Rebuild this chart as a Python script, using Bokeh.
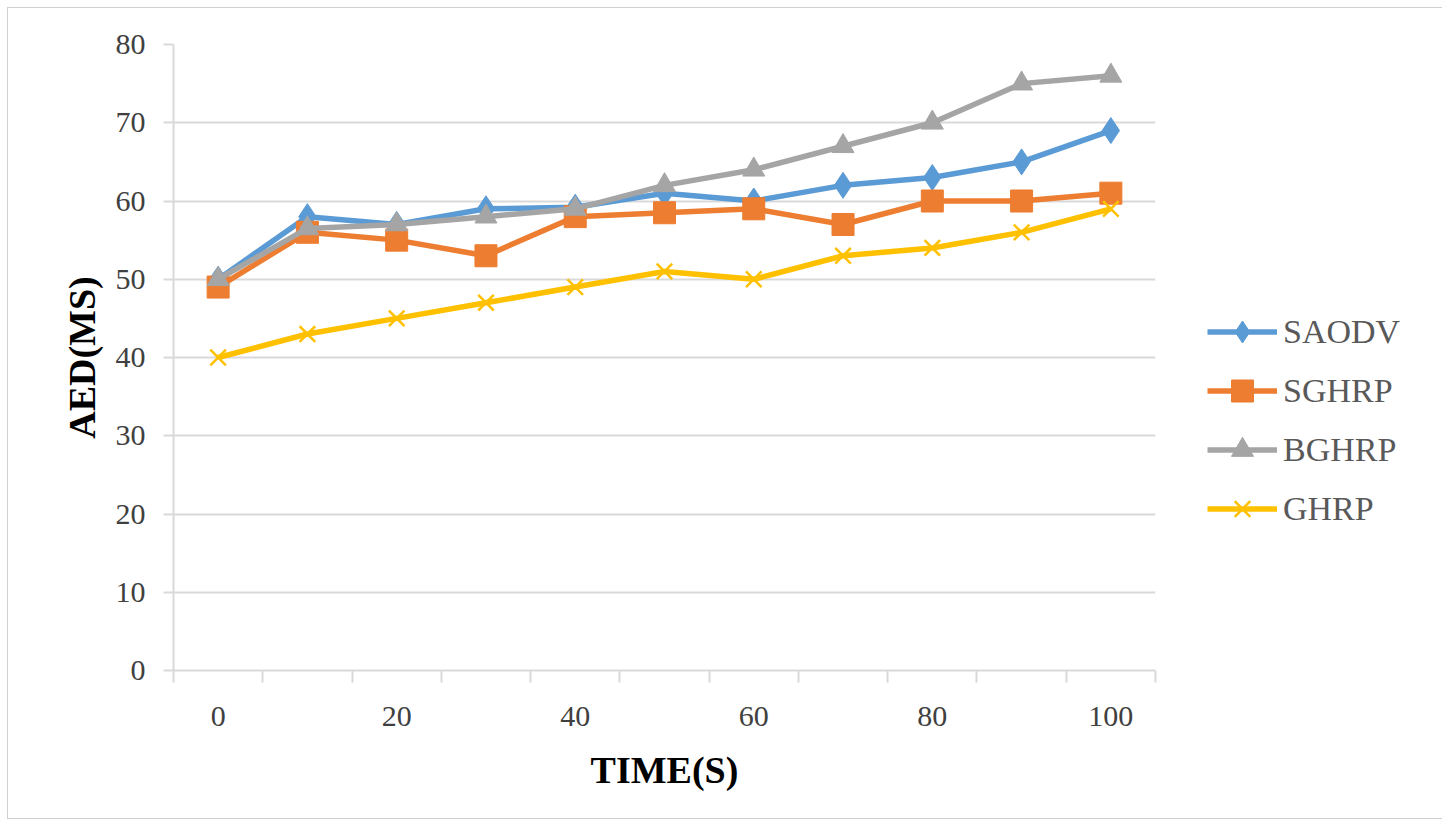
from bokeh.plotting import figure
from bokeh.models import FixedTicker, SingleIntervalTicker, Legend, LegendItem, Range1d
from bokeh.embed import file_html
from bokeh.resources import INLINE

time_s = [0, 10, 20, 30, 40, 50, 60, 70, 80, 90, 100]
saodv = [50, 58, 57, 59, 59.2, 61, 60, 62, 63, 65, 69]
sghrp = [49, 56, 55, 53, 58, 58.5, 59, 57, 60, 60, 61]
bghrp = [50, 56.5, 57, 58, 59, 62, 64, 67, 70, 75, 76]
ghrp = [40, 43, 45, 47, 49, 51, 50, 53, 54, 56, 59]
x_labels = [0, 20, 40, 60, 80, 100]
x_bounds = [-5, 5, 15, 25, 35, 45, 55, 65, 75, 85, 95, 105]

FONT = "Liberation Serif"

p = figure(frame_width=982, frame_height=626, output_backend="svg", toolbar_location=None,
           x_range=Range1d(-5, 105), y_range=Range1d(0, 80),
           min_border_left=165, min_border_right=0, min_border_top=36, min_border_bottom=148)
p.margin = (8, 8, 8, 8)
p.styles = {"outline": "1px solid #d0d0d0"}
p.outline_line_color = None

p.xaxis.ticker = FixedTicker(ticks=x_labels, minor_ticks=x_bounds)
p.xaxis.major_tick_line_color = None
p.xaxis.minor_tick_line_color = "#d9d9d9"
p.xaxis.minor_tick_line_width = 2
p.xaxis.minor_tick_out = 12
p.xaxis.minor_tick_in = 0
p.xaxis.axis_line_color = "#d9d9d9"
p.xaxis.axis_line_width = 2
p.xaxis.major_label_standoff = 24
p.xaxis.axis_label = "TIME(S)"
p.xaxis.axis_label_standoff = 20

p.yaxis.ticker = SingleIntervalTicker(interval=10)
p.yaxis.major_tick_line_color = "#d9d9d9"
p.yaxis.major_tick_line_width = 2
p.yaxis.major_tick_out = 10
p.yaxis.major_tick_in = 0
p.yaxis.minor_tick_line_color = None
p.yaxis.axis_line_color = "#d9d9d9"
p.yaxis.axis_line_width = 2
p.yaxis.major_label_standoff = 18
p.yaxis.axis_label = "AED(MS)"
p.yaxis.axis_label_standoff = 10

for ax in (p.xaxis, p.yaxis):
    ax.major_label_text_font = FONT
    ax.major_label_text_font_size = "30px"
    ax.major_label_text_color = "#404040"
    ax.axis_label_text_font = FONT
    ax.axis_label_text_font_size = "38px"
    ax.axis_label_text_font_style = "bold"
    ax.axis_label_text_color = "#000000"

p.xgrid.grid_line_color = None
p.ygrid.ticker = SingleIntervalTicker(interval=10)
p.ygrid.grid_line_color = "#d9d9d9"
p.ygrid.grid_line_width = 2

series = [
    ("SAODV", saodv, "#5B9BD5", "diamond", 26),
    ("SGHRP", sghrp, "#ED7D31", "square", 22),
    ("BGHRP", bghrp, "#A5A5A5", "triangle", 22),
    ("GHRP", ghrp, "#FFC000", "x", 22),
]
items = []
for name, ys, color, marker, size in series:
    ln = p.line(time_s, ys, line_color=color, line_width=5.5)
    if marker == "x":
        mk = p.scatter(time_s, ys, marker="x", size=size, line_color=color, line_width=2.5)
    else:
        mk = p.scatter(time_s, ys, marker=marker, size=size, fill_color=color, line_color=color)
    items.append(LegendItem(label=name, renderers=[ln, mk]))

legend = Legend(items=items, location=(52, 134), orientation="vertical",
                glyph_width=70, glyph_height=55, label_height=30, spacing=4,
                label_standoff=6, padding=0, margin=0,
                label_text_font=FONT, label_text_font_size="34px",
                label_text_color="#595959",
                border_line_color=None, background_fill_alpha=0)
p.add_layout(legend, "right")

open("out.html", "w").write(file_html(p, INLINE))
